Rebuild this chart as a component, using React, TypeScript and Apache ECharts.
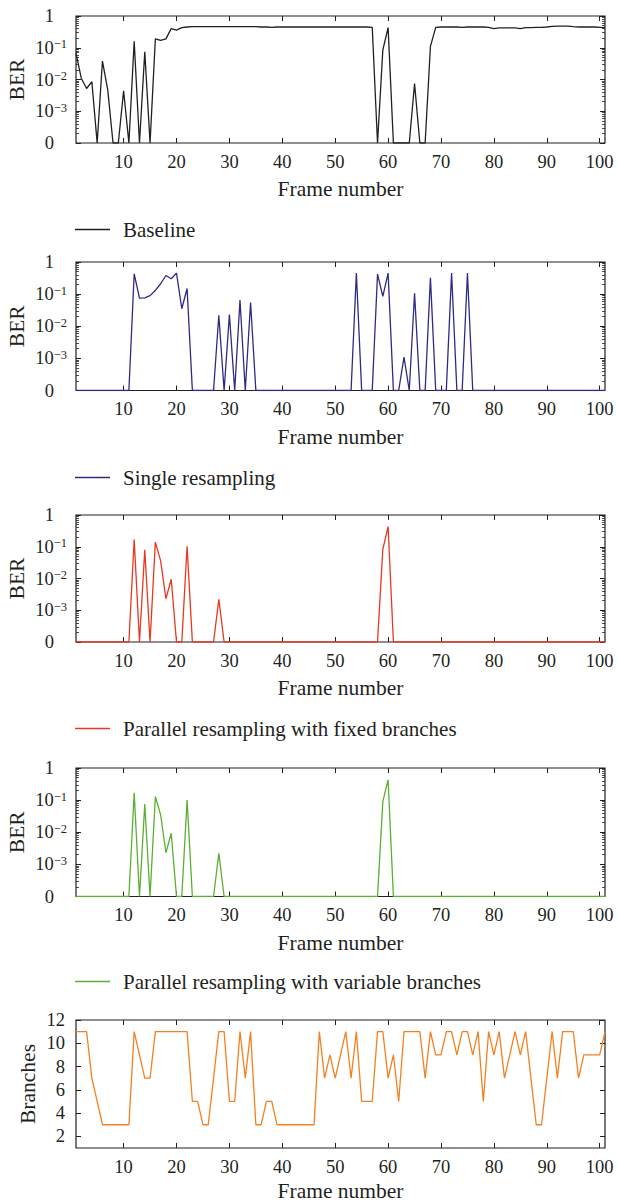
import React, { useEffect, useRef } from "react";
import * as echarts from "echarts";

// Frame index shared by all panels
const frames: number[] = Array.from({ length: 101 }, (_, i) => i + 1);

// Bit error rate per frame (0 = no errors)
const baselineBER: number[] = [
  0.066, 0.011, 0.0052, 0.0085, 0, 0.038, 0.0047, 0, 0, 0.0044,
  0, 0.16, 0, 0.074, 0, 0.19, 0.17, 0.19, 0.4, 0.36,
  0.43, 0.45, 0.46, 0.46, 0.46, 0.46, 0.46, 0.46, 0.46, 0.46,
  0.46, 0.46, 0.46, 0.46, 0.46, 0.45, 0.45, 0.44, 0.45, 0.45,
  0.45, 0.45, 0.45, 0.45, 0.45, 0.45, 0.45, 0.45, 0.45, 0.45,
  0.45, 0.45, 0.45, 0.45, 0.45, 0.45, 0.44, 0, 0.085, 0.43,
  0, 0, 0, 0, 0.0074, 0, 0, 0.11, 0.44, 0.45,
  0.45, 0.45, 0.45, 0.44, 0.45, 0.45, 0.45, 0.45, 0.44, 0.4,
  0.42, 0.42, 0.42, 0.42, 0.4, 0.43, 0.43, 0.44, 0.44, 0.45,
  0.47, 0.48, 0.48, 0.48, 0.46, 0.45, 0.45, 0.45, 0.45, 0.44,
  0.43,
];

const singleBER: number[] = [
  0, 0, 0, 0, 0, 0, 0, 0, 0, 0,
  0, 0.43, 0.075, 0.076, 0.09, 0.13, 0.21, 0.38, 0.3, 0.45,
  0.035, 0.15, 0, 0, 0, 0, 0, 0.022, 0, 0.023,
  0, 0.066, 0, 0.055, 0, 0, 0, 0, 0, 0,
  0, 0, 0, 0, 0, 0, 0, 0, 0, 0,
  0, 0, 0, 0.45, 0, 0, 0, 0.42, 0.085, 0.45,
  0, 0, 0.0011, 0, 0.107, 0, 0, 0.32, 0, 0,
  0, 0.45, 0, 0, 0.45, 0, 0, 0, 0, 0,
  0, 0, 0, 0, 0, 0, 0, 0, 0, 0,
  0, 0, 0, 0, 0, 0, 0, 0, 0, 0,
  0,
];

const fixedBER: number[] = [
  0, 0, 0, 0, 0, 0, 0, 0, 0, 0,
  0, 0.17, 0, 0.08, 0, 0.14, 0.036, 0.0023, 0.0095, 0,
  0, 0.104, 0, 0, 0, 0, 0, 0.0022, 0, 0,
  0, 0, 0, 0, 0, 0, 0, 0, 0, 0,
  0, 0, 0, 0, 0, 0, 0, 0, 0, 0,
  0, 0, 0, 0, 0, 0, 0, 0, 0.083, 0.43,
  0, 0, 0, 0, 0, 0, 0, 0, 0, 0,
  0, 0, 0, 0, 0, 0, 0, 0, 0, 0,
  0, 0, 0, 0, 0, 0, 0, 0, 0, 0,
  0, 0, 0, 0, 0, 0, 0, 0, 0, 0,
  0,
];

const variableBER: number[] = [
  0, 0, 0, 0, 0, 0, 0, 0, 0, 0,
  0, 0.17, 0, 0.075, 0, 0.13, 0.035, 0.0023, 0.0093, 0,
  0, 0.1, 0, 0, 0, 0, 0, 0.0022, 0, 0,
  0, 0, 0, 0, 0, 0, 0, 0, 0, 0,
  0, 0, 0, 0, 0, 0, 0, 0, 0, 0,
  0, 0, 0, 0, 0, 0, 0, 0, 0.09, 0.43,
  0, 0, 0, 0, 0, 0, 0, 0, 0, 0,
  0, 0, 0, 0, 0, 0, 0, 0, 0, 0,
  0, 0, 0, 0, 0, 0, 0, 0, 0, 0,
  0, 0, 0, 0, 0, 0, 0, 0, 0, 0,
  0,
];

// Number of branches used per frame by the variable scheme
const branches: number[] = [
  11, 11, 11, 7, 5, 3, 3, 3, 3, 3,
  3, 11, 9, 7, 7, 11, 11, 11, 11, 11,
  11, 11, 5, 5, 3, 3, 7, 11, 11, 5,
  5, 11, 7, 11, 3, 3, 5, 5, 3, 3,
  3, 3, 3, 3, 3, 3, 11, 7, 9, 7,
  9, 11, 7, 11, 5, 5, 5, 11, 11, 7,
  9, 5, 11, 11, 11, 11, 7, 11, 9, 9,
  11, 11, 9, 11, 11, 9, 11, 5, 11, 9,
  11, 7, 9, 11, 9, 11, 7, 3, 3, 7,
  11, 7, 11, 11, 11, 7, 9, 9, 9, 9,
  11,
];

const seriesNames = [
  "Baseline",
  "Single resampling",
  "Parallel resampling with fixed branches",
  "Parallel resampling with variable branches",
];
const seriesColors = ["#231f20", "#2e2a85", "#e8381f", "#5cb031", "#f28121"];

// Tick positions
const xTicks = [10, 20, 30, 40, 50, 60, 70, 80, 90, 100];
const berTicks = [1e-4, 1e-3, 1e-2, 1e-1, 1];
const berMinorTicks = [1e-4, 1e-3, 1e-2, 1e-1].flatMap((d) =>
  [2, 3, 4, 5, 6, 7, 8, 9].map((k) => k * d)
);
const branchTicks = [2, 4, 6, 8, 10, 12];

const BER_FLOOR = 1e-4; // plotted position of a zero error rate

const FONT = '"Liberation Serif", "DejaVu Serif", serif';
const INK = "#231f20";
const TICK_SIZE = 18.5;
const NAME_SIZE = 21.5;
const LEGEND_SIZE = 21;

// Plot boxes: [top, height]
const boxes: [number, number][] = [
  [16, 127],
  [262, 128.5],
  [515, 127],
  [768, 128.5],
  [1020, 128],
];
const legendCenters = [230, 478, 729, 982];
const PLOT_LEFT = 76;
const PLOT_WIDTH = 529;

function berLabel(v: number): string {
  const e = Math.round(Math.log10(v));
  if (e === 0) return "{p|1}";
  if (e === -4) return "{p|0}";
  return `{b|10}{s|\u2212${-e}}`;
}

const berRich = {
  p: { fontFamily: FONT, fontSize: TICK_SIZE, color: INK, padding: [0, 13, 0, 0], lineHeight: 20 },
  b: { fontFamily: FONT, fontSize: TICK_SIZE, color: INK, lineHeight: 20 },
  s: { fontFamily: FONT, fontSize: 12.5, color: INK, lineHeight: 13, verticalAlign: "top" },
};

function buildOption() {
  const grid: any[] = [];
  const xAxis: any[] = [];
  const yAxis: any[] = [];
  const series: any[] = [];
  const legend: any[] = [];

  const berData = [baselineBER, singleBER, fixedBER, variableBER];

  boxes.forEach(([top, height], g) => {
    const last = g === boxes.length - 1;
    grid.push({
      left: PLOT_LEFT,
      top,
      width: PLOT_WIDTH,
      height,
      containLabel: false,
      outerBoundsMode: "none",
      show: true,
      borderColor: INK,
      borderWidth: 1.2,
      backgroundColor: "transparent",
    });

    const xIndex = xAxis.length;
    const xCommon = {
      type: "value",
      gridIndex: g,
      min: 1,
      max: 101,
      axisLine: { show: false },
      splitLine: { show: false },
      axisTick: {
        inside: true,
        length: 5,
        customValues: xTicks,
        lineStyle: { color: INK, width: 1 },
      },
    };
    xAxis.push({
      ...xCommon,
      position: "bottom",
      axisLabel: {
        customValues: xTicks,
        fontFamily: FONT,
        fontSize: TICK_SIZE,
        color: INK,
        margin: 9,
      },
      name: "Frame number",
      nameLocation: "middle",
      nameGap: last ? 32 : 35,
      nameTextStyle: { fontFamily: FONT, fontSize: NAME_SIZE, color: INK },
    });
    xAxis.push({ ...xCommon, position: "top", axisLabel: { show: false } });

    const yIndex = yAxis.length;
    if (g < 4) {
      const yCommon = {
        type: "log",
        logBase: 10,
        gridIndex: g,
        min: BER_FLOOR,
        max: 1,
        axisLine: { show: false },
        splitLine: { show: false },
        minorSplitLine: { show: false },
      };
      const major = {
        inside: true,
        length: 5,
        customValues: berTicks,
        lineStyle: { color: INK, width: 1 },
      };
      const minor = {
        inside: true,
        length: 3,
        customValues: berMinorTicks,
        lineStyle: { color: INK, width: 0.8 },
      };
      yAxis.push({
        ...yCommon,
        position: "left",
        axisTick: major,
        axisLabel: {
          customValues: berTicks,
          formatter: berLabel,
          rich: berRich,
          margin: 9,
          fontFamily: FONT,
          fontSize: TICK_SIZE,
          color: INK,
        },
        name: "BER",
        nameLocation: "middle",
        nameMoveOverlap: false,
        nameGap: 48,
        nameTextStyle: { fontFamily: FONT, fontSize: NAME_SIZE, color: INK },
      });
      yAxis.push({ ...yCommon, position: "left", axisTick: minor, axisLabel: { show: false } });
      yAxis.push({ ...yCommon, position: "right", axisTick: major, axisLabel: { show: false } });
      yAxis.push({ ...yCommon, position: "right", axisTick: minor, axisLabel: { show: false } });

      series.push({
        name: seriesNames[g],
        type: "line",
        xAxisIndex: xIndex,
        yAxisIndex: yIndex,
        data: frames.map((f, i) => [f, berData[g][i] === 0 ? BER_FLOOR : berData[g][i]]),
        showSymbol: false,
        symbol: "none",
        lineStyle: { color: seriesColors[g], width: 1.3 },
        itemStyle: { color: seriesColors[g] },
      });

      legend.push({
        data: [seriesNames[g]],
        left: PLOT_LEFT - 1,
        top: legendCenters[g] - 11,
        padding: 0,
        icon: "rect",
        itemWidth: 35,
        itemHeight: 1.3,
        selectedMode: false,
        textStyle: {
          fontFamily: FONT,
          fontSize: LEGEND_SIZE,
          color: INK,
          padding: [0, 0, 0, 8],
        },
      });
    } else {
      const yCommon = {
        type: "value",
        gridIndex: g,
        min: 1,
        max: 12,
        axisLine: { show: false },
        splitLine: { show: false },
        axisTick: {
          inside: true,
          length: 5,
          customValues: branchTicks,
          lineStyle: { color: INK, width: 1 },
        },
      };
      yAxis.push({
        ...yCommon,
        position: "left",
        axisLabel: {
          customValues: branchTicks,
          fontFamily: FONT,
          fontSize: TICK_SIZE,
          color: INK,
          margin: 11,
        },
        name: "Branches",
        nameLocation: "middle",
        nameMoveOverlap: false,
        nameGap: 37,
        nameTextStyle: { fontFamily: FONT, fontSize: NAME_SIZE, color: INK },
      });
      yAxis.push({ ...yCommon, position: "right", axisLabel: { show: false } });

      series.push({
        name: "Branches",
        type: "line",
        xAxisIndex: xIndex,
        yAxisIndex: yIndex,
        data: frames.map((f, i) => [f, branches[i]]),
        showSymbol: false,
        symbol: "none",
        lineStyle: { color: seriesColors[4], width: 1.3 },
        itemStyle: { color: seriesColors[4] },
      });
    }
  });

  return {
    animation: false,
    backgroundColor: "#ffffff",
    textStyle: { fontFamily: FONT },
    grid,
    xAxis,
    yAxis,
    legend,
    series,
  };
}

export default function App() {
  const ref = useRef<HTMLDivElement>(null);

  useEffect(() => {
    if (!ref.current) return;
    const chart = echarts.init(ref.current, null, { renderer: "svg" });
    chart.setOption(buildOption() as any);
    return () => chart.dispose();
  }, []);

  return (
    <div
      ref={ref}
      style={{ position: "absolute", left: 0, top: 0, width: 617, height: 1204 }}
    />
  );
}
